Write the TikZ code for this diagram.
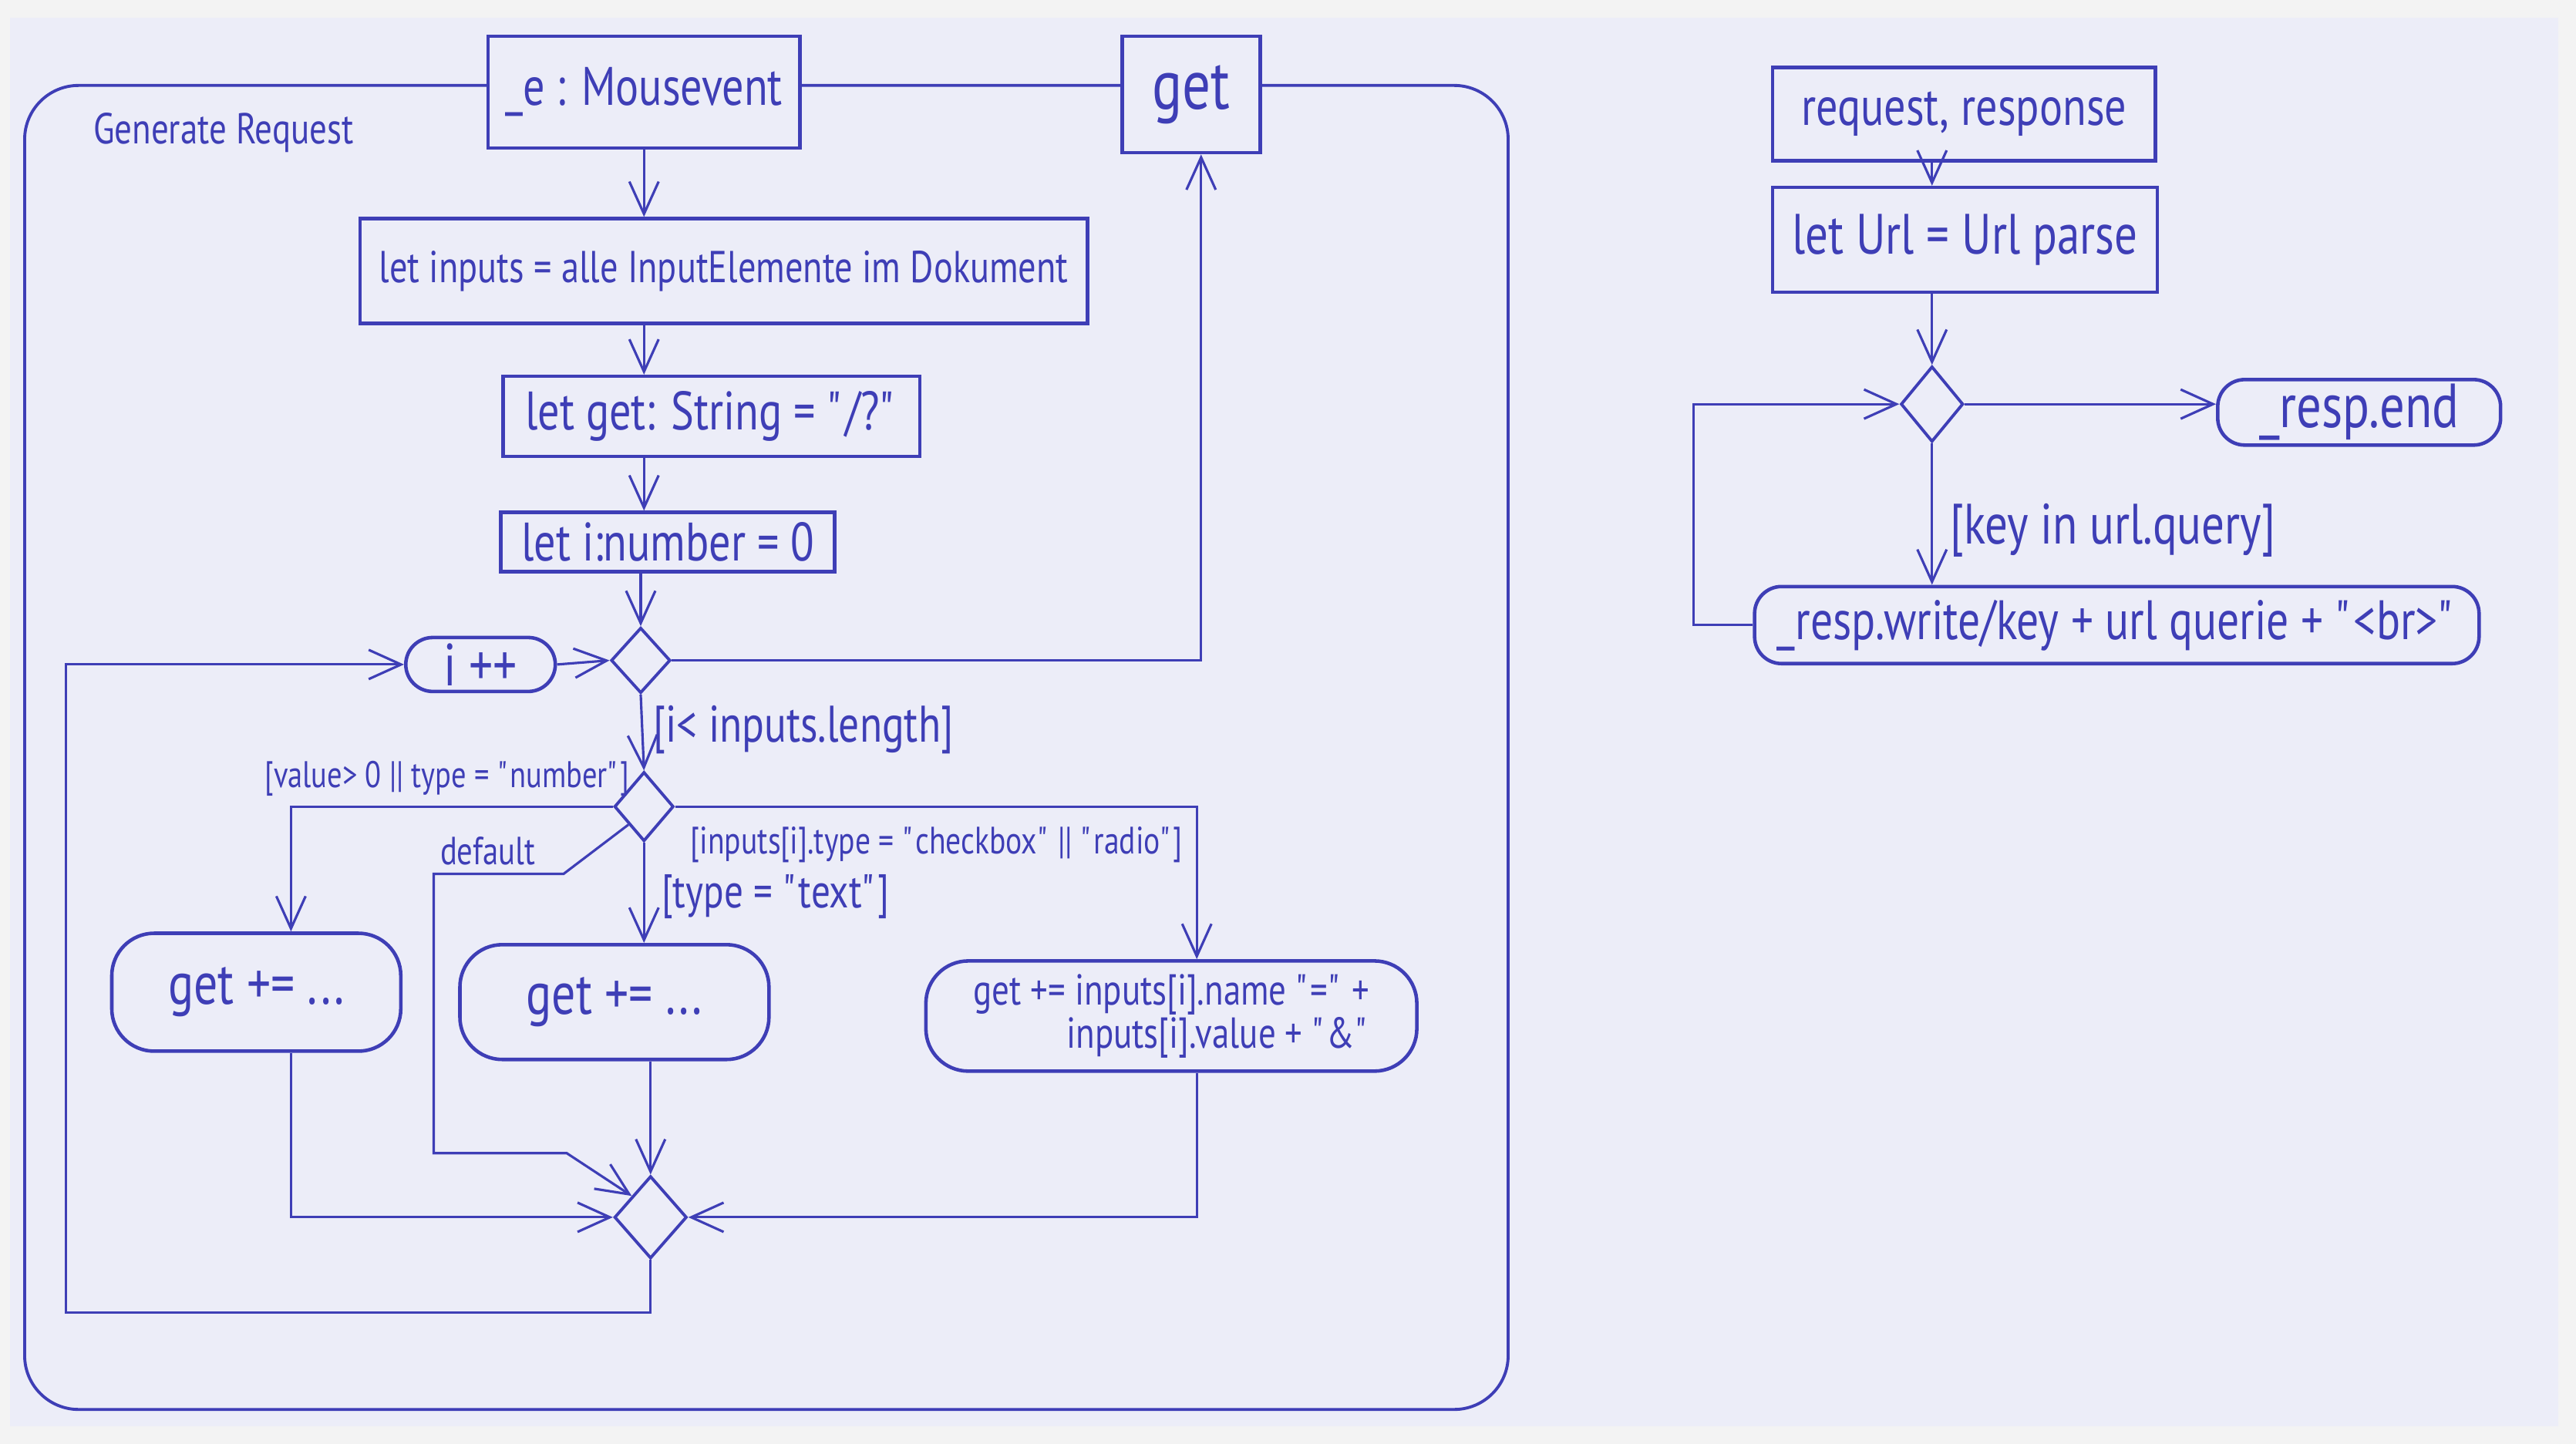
\documentclass[tikz,border=0pt]{standalone}
\usepackage{fontspec}
\setmainfont{PT Sans}[FakeStretch=0.8]
\usetikzlibrary{arrows.meta,shapes.geometric,calc}
\definecolor{ink}{RGB}{62,62,182}
\definecolor{paper}{RGB}{236,237,248}
\definecolor{scanedge}{RGB}{243,243,243}
\def\fs#1{\fontsize{#1}{1.15\dimexpr#1\relax}\selectfont}
\def\qq{\textquotedbl}
\tikzset{
	box/.style={draw=ink, line width=1.3pt, fill=paper, inner sep=0pt},
	act/.style={box, rounded corners=#1},
	act/.default=0.35cm,
	dec/.style={box, diamond, line width=1.1pt},
	guard/.style={inner sep=0pt},
	wire/.style={draw=ink, line width=0.9pt},
	flow/.style={wire, -{Straight Barb[length=4.2mm,width=3.8mm]}}
}

\begin{document}
\begin{tikzpicture}[x=0.02131cm, y=-0.02131cm, color=ink]
		%%%%% START %%%%%
		
		\fill[scanedge] (0,0) rectangle (1568,879);
		\fill[paper] (6,11) rectangle (1557,868);
		\useasboundingbox (0,0) rectangle (1568,879);
		
		% Generate Request
		\draw[line width=1.1pt, rounded corners=0.7cm] (15,52) rectangle (918,858);
		\node[guard] (title) at (136,81) {\fs{16pt}Generate Request};
		
		\node[box, minimum width=4.05cm, minimum height=1.45cm] (ev) at (392,56) {\fs{20pt}\_e : Mousevent};
		\node[box, minimum width=1.79cm, minimum height=1.51cm] (getp) at (725,57.5) {\fs{26pt}get};
		
		\node[box, minimum width=9.44cm, minimum height=1.36cm] (inputs) at (440.5,165) {\fs{16.5pt}let inputs = alle InputElemente im Dokument};
		\node[box, minimum width=5.41cm, minimum height=1.04cm] (getstr) at (433,253.5) {\fs{20pt}let get: String = \qq/?\qq};
		\node[box, minimum width=4.33cm, minimum height=0.77cm] (ibox) at (406.5,330) {\fs{20pt}let i:number = 0};
		
		\node[act, minimum width=1.94cm, minimum height=0.70cm] (inc) at (292.5,404.5) {\fs{22pt}i ++};
		\node[dec, minimum width=0.77cm, minimum height=0.85cm] (dec1) at (390,402) {};
		\node[dec, minimum width=0.77cm, minimum height=0.90cm] (dec2) at (392,491) {};
		
		\node[act=0.55cm, minimum width=3.75cm, minimum height=1.53cm] (add1) at (156,604) {\fs{22pt}get += ...};
		\node[act=0.55cm, minimum width=4.01cm, minimum height=1.49cm] (add2) at (374,610) {\fs{22pt}get += ...};
		\node[act=0.55cm, minimum width=6.37cm, minimum height=1.43cm, align=right] (add3) at (713,618.5) {\fs{16pt}get += inputs[i].name \qq=\qq\ +\\\fs{16pt}inputs[i].value + \qq\&\qq};
		\node[dec, minimum width=0.94cm, minimum height=1.07cm] (merge) at (396,741) {};
		
		\node[guard] (lt) at (489,444) {\fs{19pt}[i< inputs.length]};
		\node[guard] (num) at (272,474) {\fs{13.7pt}[value> 0 || type = \qq number\qq]};
		\node[guard] (dflt) at (297,518) {\fs{14.5pt}default};
		\node[guard] (chk) at (570,514) {\fs{14.1pt}[inputs[i].type = \qq checkbox\qq\ || \qq radio\qq]};
		\node[guard] (txt) at (472,546) {\fs{17.5pt}[type = \qq text\qq]};
		
		\coordinate (spine) at (392,0);
		\coordinate (d1) at (343,532);
		\coordinate (d2) at (264,532);
		\coordinate (d3) at (264,702);
		\coordinate (d4) at (345,702);
		\coordinate (back) at (40,799);
		
		\draw[flow] (ev.south -| spine) -- (inputs.north -| spine);
		\draw[flow] (inputs.south -| spine) -- (getstr.north -| spine);
		\draw[flow] (getstr.south -| spine) -- (ibox.north -| spine);
		\draw[flow] (ibox.south -| dec1.north) -- (dec1.north);
		\draw[flow] (inc.east) -- (dec1.west);
		\draw[flow] (dec1.east) -| ([xshift=0.13cm]getp.south);
		\draw[flow] (dec1.south) -- (dec2.north);
		
		\draw[flow] (dec2.west) -| ([xshift=0.45cm]add1.north);
		\draw[flow] (dec2.south west) -- (d1) -- (d2) -- (d3) -- (d4) -- (merge.north west);
		\draw[flow] (dec2.south) -- (dec2.south |- add2.north);
		\draw[flow] (dec2.east) -| ([xshift=0.33cm]add3.north);
		
		\draw[flow] ([xshift=0.45cm]add1.south) |- (merge.west);
		\draw[flow] (merge.north |- add2.south) -- (merge.north);
		\draw[flow] ([xshift=0.33cm]add3.south) |- (merge.east);
		\draw[flow] (merge.south) |- (back) |- (inc.west);
		
		% server
		\node[box, minimum width=4.97cm, minimum height=1.21cm] (req) at (1195.5,69.5) {\fs{20pt}request, response};
		\node[box, minimum width=4.99cm, minimum height=1.36cm] (url) at (1196,146) {\fs{21pt}let Url = Url parse};
		\node[dec, minimum width=0.81cm, minimum height=0.98cm] (dec4) at (1176,246) {};
		\node[act, minimum width=3.67cm, minimum height=0.85cm] (end) at (1436,251) {\fs{23pt}\_resp.end};
		\node[act, minimum width=9.40cm, minimum height=1.00cm] (write) at (1288.5,380.5) {\fs{20.5pt}\_resp.write/key + url querie + \qq<br>\qq};
		\node[guard] (key) at (1286,323) {\fs{21pt}[key in url.query]};
		
		\coordinate (back2) at (1031,0);
		
		\draw[flow] (req.south -| dec4) -- (url.north -| dec4);
		\draw[flow] (url.south -| dec4) -- (dec4.north);
		\draw[flow] (dec4.east) -- (dec4.east -| end.west);
		\draw[flow] (dec4.south) -- (dec4.south |- write.north);
		\draw[flow] (write.west) -- (write.west -| back2) |- (dec4.west);
		
		%%%%% END %%%%%
	\end{tikzpicture}
\end{document}
